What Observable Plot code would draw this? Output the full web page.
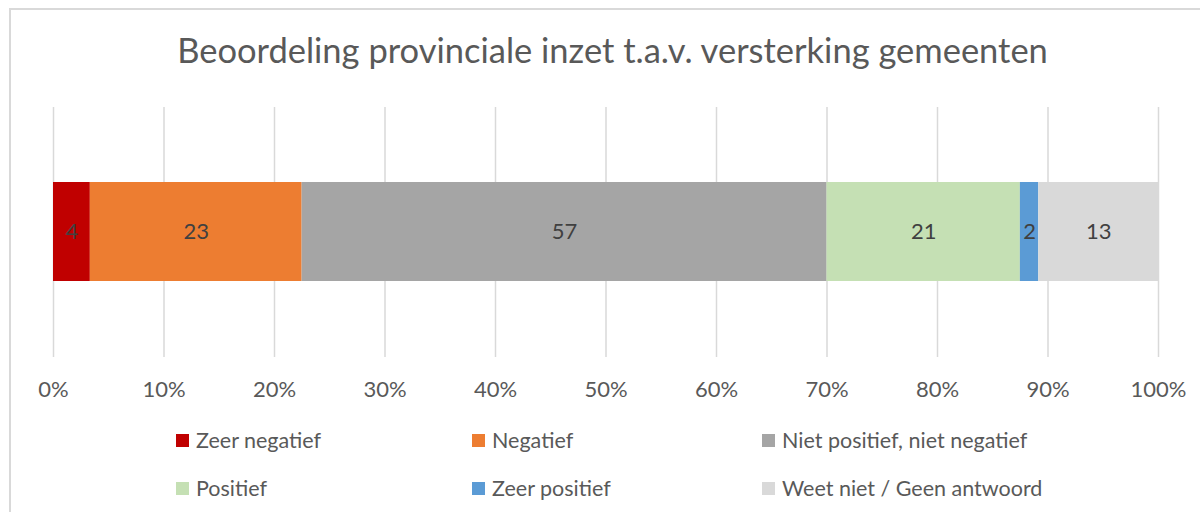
<!DOCTYPE html>
<html>
<head>
<meta charset="utf-8">
<script src="https://cdn.jsdelivr.net/npm/d3@7"></script>
<script src="https://cdn.jsdelivr.net/npm/@observablehq/plot@0.6"></script>
<style>
  html, body { margin: 0; padding: 0; background: #fff; overflow: hidden; width: 1200px; height: 512px; }
  #frame { position: absolute; left: 9px; top: 8px; width: 1400px; height: 700px; border: 2px solid #d9d9d9; box-sizing: border-box; }
  #title { position: absolute; left: 0; width: 1225px; top: 29px; text-align: center; font-family: Lato, sans-serif; font-size: 34.5px; color: #595959; white-space: nowrap; }
  #chart { position: absolute; left: 0; top: 0; }
  .leg { position: absolute; font-family: Lato, sans-serif; font-size: 21.5px; color: #595959; white-space: nowrap; line-height: 1; }
  .leg span.sw { position: absolute; left: -20px; top: 4px; width: 13px; height: 13px; }
</style>
</head>
<body>
<div id="frame"></div>
<div id="title">Beoordeling provinciale inzet t.a.v. versterking gemeenten</div>
<div id="chart"></div>
<div id="legend"></div>
<script>
const categories = ["Zeer negatief", "Negatief", "Niet positief, niet negatief", "Positief", "Zeer positief", "Weet niet / Geen antwoord"];
const values = [4, 23, 57, 21, 2, 13];
const colors = ["#c00000", "#ed7d31", "#a5a5a5", "#c5e0b4", "#5b9bd5", "#d9d9d9"];
const tickValues = [0, 0.1, 0.2, 0.3, 0.4, 0.5, 0.6, 0.7, 0.8, 0.9, 1.0];

const data = categories.map((c, i) => ({cat: c, value: values[i], row: "r"}));

const plot = Plot.plot({
  width: 1200,
  height: 410,
  marginLeft: 53,
  marginRight: 42,
  marginTop: 107,
  marginBottom: 53,
  style: {fontFamily: "Lato, sans-serif", background: "transparent"},
  x: {domain: [0, 1], axis: null, label: null},
  y: {domain: ["r"], axis: null, label: null, padding: 0.4286},
  color: {domain: categories, range: colors},
  marks: [
    Plot.gridX(tickValues, {stroke: "#d9d9d9", strokeOpacity: 1, strokeWidth: 1.5}),
    Plot.barX(data, Plot.stackX({offset: "normalize", order: null, x: "value", y: "row", fill: "cat"})),
    Plot.text(data, Plot.stackX({offset: "normalize", order: null, x: "value", y: "row", z: "cat", text: d => String(d.value), fill: "#404040", fontSize: 22})),
    Plot.axisX(tickValues, {tickSize: 0, tickPadding: 24, label: null, tickFormat: d => Math.round(d * 100) + "%", fontSize: 22, fill: "#595959", stroke: null})
  ]
});
document.getElementById("chart").appendChild(plot);

const legPos = [[196, 430], [492, 430], [782, 430], [196, 478], [492, 478], [782, 478]];
const leg = document.getElementById("legend");
categories.forEach((c, i) => {
  const d = document.createElement("div");
  d.className = "leg";
  d.style.left = legPos[i][0] + "px";
  d.style.top = legPos[i][1] + "px";
  d.innerHTML = `<span class="sw" style="background:${colors[i]}"></span>${c}`;
  leg.appendChild(d);
});
</script>
</body>
</html>
